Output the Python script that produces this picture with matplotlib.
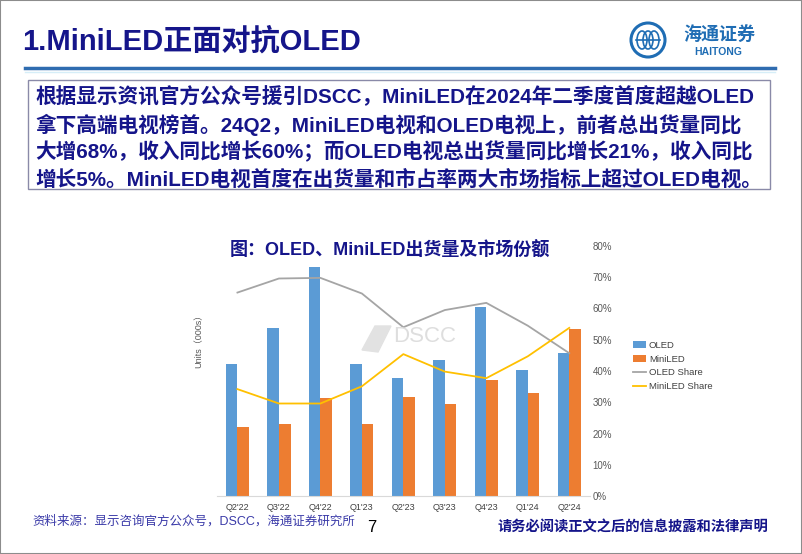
import matplotlib.pyplot as plt
import matplotlib.patches as mpatches
from matplotlib.lines import Line2D
import numpy as np

plt.rcParams['font.family'] = ['Liberation Sans', 'Noto Sans CJK SC', 'DejaVu Sans']

# data
quarters = ["Q2'22", "Q3'22", "Q4'22", "Q1'23", "Q2'23", "Q3'23", "Q4'23", "Q1'24", "Q2'24"]
oled_units = [528, 671, 917, 527, 471, 544, 757, 503, 572]
miniled_units = [277, 287, 391, 287, 396, 367, 463, 411, 669]
oled_share = [65.1, 69.6, 69.8, 64.8, 54.0, 59.5, 61.8, 54.5, 45.7]
miniled_share = [34.2, 29.6, 29.6, 35.1, 45.4, 39.8, 37.7, 44.7, 53.8]
pct_ticks = [0, 10, 20, 30, 40, 50, 60, 70, 80]

W, H = 802, 554
navy = '#15158a'

def fx(x):
    return x / W

def fy(y):
    return 1 - y / H

fig = plt.figure(figsize=(W / 100, H / 100), dpi=100)

# slide frame
fig.patches.append(mpatches.Rectangle((0, 0), 1, 1, transform=fig.transFigure,
                                      fill=False, ec='#8c8c8c', lw=1.5))

# header
fig.text(fx(22), fy(41), '1.MiniLED正面对抗OLED', fontsize=21, fontweight='bold',
         color=navy, va='center', ha='left')
fig.add_artist(Line2D([fx(25), fx(775)], [fy(68), fy(68)], color='#2f6cb0', lw=2.5))
fig.add_artist(Line2D([fx(25), fx(775)], [fy(71.5), fy(71.5)], color='#d6eef8', lw=1))

# logo
logo = '#1f6db4'
fig.patches.append(mpatches.Ellipse((fx(648), fy(40)), 34 / W, 34 / H, transform=fig.transFigure,
                                    fill=False, ec=logo, lw=2.2))
for dx in (-6, 0, 6):
    fig.patches.append(mpatches.Ellipse((fx(648 + dx), fy(40)), 10 / W, 18 / H,
                                        transform=fig.transFigure, fill=False, ec=logo, lw=1.2))
fig.add_artist(Line2D([fx(636), fx(660)], [fy(40), fy(40)], color=logo, lw=1.2))
fig.text(fx(719), fy(35), '海通证券', fontsize=13, color=logo, ha='center', va='center',
         fontweight='bold', fontstyle='italic')
fig.text(fx(718), fy(52), 'HAITONG', fontsize=7.5, color=logo, ha='center', va='center',
         fontweight='bold')

# summary box
fig.patches.append(mpatches.Rectangle((fx(28), fy(189)), 742 / W, 109 / H,
                                      transform=fig.transFigure, fill=False,
                                      ec='#8a8aa8', lw=1))
lines = [
    '根据显示资讯官方公众号援引DSCC，MiniLED在2024年二季度首度超越OLED',
    '拿下高端电视榜首。24Q2，MiniLED电视和OLED电视上，前者总出货量同比',
    '大增68%，收入同比增长60%；而OLED电视总出货量同比增长21%，收入同比',
    '增长5%。MiniLED电视首度在出货量和市占率两大市场指标上超过OLED电视。',
]
for i, t in enumerate(lines):
    fig.text(fx(35), fy(97 + i * 27.5), t, fontsize=14.9, fontweight='bold', color=navy,
             ha='left', va='center')

# chart
ax = fig.add_axes([fx(216.7), fy(496), (590 - 216.7) / W, (496 - 246) / H])
x = np.arange(len(quarters))
bw = 0.28
ax.bar(x - bw / 2, oled_units, bw, color='#5b9bd5', label='OLED', zorder=2)
ax.bar(x + bw / 2, miniled_units, bw, color='#ed7d31', label='MiniLED', zorder=2)
ax.set_xlim(-0.5, len(quarters) - 0.5)
ax.set_ylim(0, 1000)
ax.set_yticks([])
ax.set_xticks(x)
ax.set_xticklabels(quarters, fontsize=6.5, color='#404040')
ax.tick_params(axis='x', length=0, pad=5)
for s in ('top', 'left', 'right'):
    ax.spines[s].set_visible(False)
ax.spines['bottom'].set_color('#d9d9d9')
ax.patch.set_alpha(0)

ax2 = ax.twinx()
ax2.plot(x, oled_share, color='#a5a5a5', lw=1.3, label='OLED Share')
ax2.plot(x, miniled_share, color='#ffc000', lw=1.3, label='MiniLED Share')
ax2.set_ylim(0, 80)
ax2.set_yticks(pct_ticks)
ax2.set_yticklabels([f'{t}%' for t in pct_ticks], fontsize=7, color='#595959')
ax2.tick_params(axis='y', length=0, pad=2)
for s in ax2.spines.values():
    s.set_visible(False)

# watermark
fig.patches.append(mpatches.Polygon([[fx(362), fy(350)], [fx(375), fy(326)], [fx(391), fy(326)],
                                     [fx(378), fy(352)]], closed=True, transform=fig.transFigure,
                                    color='#e2e2e2', zorder=3))
fig.text(fx(393), fy(337), 'DSCC', fontsize=16, color='#dedede', ha='left', va='center', zorder=3)

fig.text(fx(390), fy(251), '图：OLED、MiniLED出货量及市场份额', fontsize=13, fontweight='bold',
         color=navy, ha='center', va='center')
fig.text(fx(199), fy(339), 'Units（000s）', fontsize=6.5, color='#595959', rotation=90,
         ha='center', va='center')

h1, l1 = ax.get_legend_handles_labels()
h2, l2 = ax2.get_legend_handles_labels()
fig.legend(h1 + h2, l1 + l2, loc='center left', bbox_to_anchor=(fx(629), fy(366)),
           frameon=False, fontsize=6.8, handlelength=1.4, handletextpad=0.3,
           labelspacing=0.5, borderaxespad=0, labelcolor='#404040')

# footer
fig.text(fx(32), fy(521), '资料来源：显示咨询官方公众号，DSCC，海通证券研究所', fontsize=9,
         color='#3a3aa8', ha='left', va='center')
fig.text(fx(372), fy(527), '7', fontsize=12, color='black', ha='center', va='center')
fig.text(fx(768), fy(527), '请务必阅读正文之后的信息披露和法律声明', fontsize=10.3,
         fontweight='bold', color=navy, ha='right', va='center')

fig.savefig('out.png', dpi=100)
